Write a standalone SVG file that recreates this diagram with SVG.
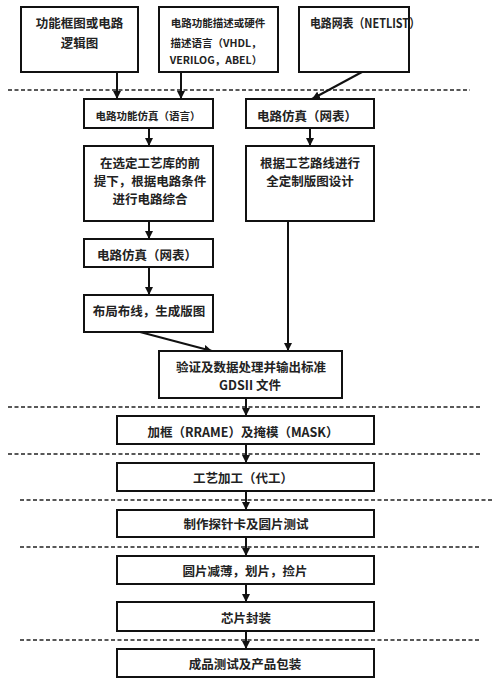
<svg xmlns="http://www.w3.org/2000/svg" width="499" height="691" viewBox="0 0 499 691">
<defs>
<marker id="ah" viewBox="0 0 10 10" refX="10" refY="5" markerWidth="8" markerHeight="8" markerUnits="userSpaceOnUse" orient="auto">
<path d="M0,0 L10,5 L0,10 z" fill="#111"/>
</marker>
<style>
.box{fill:#fff;stroke:#111;stroke-width:2}
.t{font-family:"Noto Sans CJK SC","Liberation Sans",sans-serif;font-size:12.5px;font-weight:bold;fill:#222;text-anchor:middle;dominant-baseline:central}
.s{font-size:10.5px}
.c{stroke:#111;stroke-width:2;fill:none;marker-end:url(#ah)}
.l{stroke:#111;stroke-width:2;fill:none}
.d{stroke:#222;stroke-width:1.5;stroke-dasharray:4 2.5;fill:none}
</style>
</defs>
<rect width="499" height="691" fill="#fff"/>
<g id="separators">
<line class="d" x1="8" y1="90" x2="470" y2="90"/>
<line class="d" x1="8" y1="407" x2="482" y2="407"/>
<line class="d" x1="8" y1="454" x2="482" y2="454"/>
<line class="d" x1="20" y1="500" x2="493" y2="500"/>
<line class="d" x1="20" y1="547" x2="480" y2="547"/>
<line class="d" x1="20" y1="640" x2="480" y2="640"/>
</g>
<g id="connectors">
<line class="c" x1="117" y1="72" x2="117" y2="99"/>
<line class="c" x1="181" y1="72" x2="181" y2="99"/>
<line class="c" x1="362" y1="72" x2="312" y2="99"/>
<line class="c" x1="149" y1="128" x2="149" y2="146"/>
<line class="c" x1="310" y1="128" x2="310" y2="146"/>
<line class="c" x1="149" y1="221" x2="149" y2="239"/>
<line class="c" x1="149" y1="267" x2="149" y2="295"/>
<line class="c" x1="140" y1="332" x2="212" y2="351"/>
<line class="c" x1="288" y1="221" x2="288" y2="351"/>
<line class="c" x1="246" y1="398" x2="246" y2="416"/>
<line class="c" x1="246" y1="444" x2="246" y2="463"/>
<line class="c" x1="246" y1="491" x2="246" y2="510"/>
<line class="c" x1="246" y1="537" x2="246" y2="556"/>
<line class="c" x1="246" y1="584" x2="246" y2="602"/>
<line class="c" x1="246" y1="631" x2="246" y2="649"/>
</g>
<g id="n1"><rect class="box" x="21" y="7" width="117" height="65"/>
<text class="t" x="79.5" y="22">功能框图或电路</text><text class="t" x="79.5" y="42">逻辑图</text></g>
<g id="n2"><rect class="box" x="159" y="7" width="119" height="65"/>
<text class="t s" x="218" y="22">电路功能描述或硬件</text><text class="t s" x="216" y="42">描述语言（VHDL，</text><text class="t s" x="216" y="59">VERILOG，ABEL）</text></g>
<g id="n3"><rect class="box" x="299" y="7" width="110" height="65"/>
<text class="t" x="365" y="22" textLength="110" lengthAdjust="spacingAndGlyphs">电路网表（NETLIST）</text></g>
<g id="n4"><rect class="box" x="84" y="99" width="129" height="29"/>
<text class="t s" x="148" y="115">电路功能仿真（语言）</text></g>
<g id="n5"><rect class="box" x="246" y="99" width="128" height="29"/>
<text class="t" x="307" y="115">电路仿真（网表）</text></g>
<g id="n6"><rect class="box" x="84" y="146" width="129" height="75"/>
<text class="t" x="150" y="162">在选定工艺库的前</text><text class="t" x="150" y="180">提下，根据电路条件</text><text class="t" x="150" y="198">进行电路综合</text></g>
<g id="n7"><rect class="box" x="246" y="146" width="128" height="75"/>
<text class="t" x="310" y="162">根据工艺路线进行</text><text class="t" x="310" y="180">全定制版图设计</text></g>
<g id="n8"><rect class="box" x="84" y="239" width="129" height="28"/>
<text class="t" x="147" y="254">电路仿真（网表）</text></g>
<g id="n9"><rect class="box" x="84" y="295" width="129" height="37"/>
<text class="t" x="149" y="310">布局布线，生成版图</text></g>
<g id="n10"><rect class="box" x="159" y="351" width="183" height="47"/>
<text class="t" x="251" y="366">验证及数据处理并输出标准</text><text class="t" x="250" y="384">GDSII 文件</text></g>
<g id="n11"><rect class="box" x="117" y="416" width="257" height="28"/>
<text class="t" x="243" y="431">加框（RRAME）及掩模（MASK）</text></g>
<g id="n12"><rect class="box" x="117" y="463" width="257" height="28"/>
<text class="t" x="243" y="477">工艺加工（代工）</text></g>
<g id="n13"><rect class="box" x="117" y="510" width="257" height="27"/>
<text class="t" x="246" y="523">制作探针卡及圆片测试</text></g>
<g id="n14"><rect class="box" x="117" y="556" width="257" height="28"/>
<text class="t" x="245" y="570">圆片减薄，划片，捡片</text></g>
<g id="n15"><rect class="box" x="117" y="602" width="257" height="29"/>
<text class="t" x="246" y="617">芯片封装</text></g>
<g id="n16"><rect class="box" x="117" y="649" width="257" height="28"/>
<text class="t" x="245" y="663">成品测试及产品包装</text></g>
</svg>
